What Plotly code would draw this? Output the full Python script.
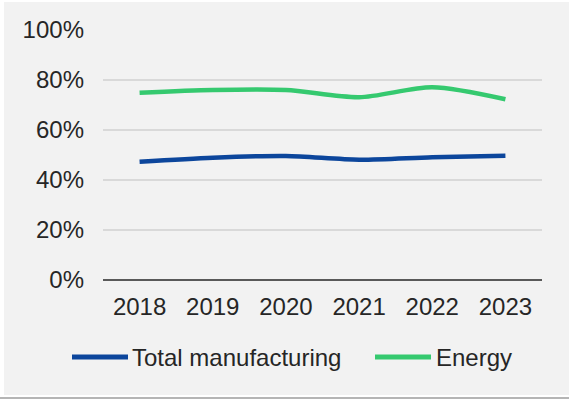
import plotly.graph_objects as go

# Share of firms by year
years = ["2018", "2019", "2020", "2021", "2022", "2023"]
total_manufacturing = [47.3, 48.9, 49.6, 48.1, 49.1, 49.7]
energy = [74.9, 76.0, 76.0, 73.1, 77.1, 72.3]
series_names = ["Total manufacturing", "Energy"]
y_ticks = [0, 20, 40, 60, 80, 100]
y_tick_labels = ["0%", "20%", "40%", "60%", "80%", "100%"]

colors = ["#0c469c", "#35c96f"]
font_family = "Liberation Sans, Arial, sans-serif"
text_color = "#262626"
font_size = 24

W, H = 569, 399
L, R, T, B = 103, 27, 30, 119
pw, ph = W - L - R, H - T - B


def px_x(x):
    return (x - L) / pw


def px_y(y):
    return (H - B - y) / ph


fig = go.Figure()
for name, vals, col in zip(series_names, [total_manufacturing, energy], colors):
    fig.add_trace(go.Scatter(
        x=years, y=vals, name=name, mode="lines",
        line=dict(color=col, width=4.5, shape="spline", smoothing=0.8),
        showlegend=False,
    ))

shapes = [
    # card panel
    dict(type="rect", xref="paper", yref="paper",
         x0=px_x(4), x1=px_x(570), y0=px_y(395), y1=px_y(2),
         fillcolor="#f2f2f2", line=dict(width=0), layer="below"),
    # card bottom edge
    dict(type="line", xref="paper", yref="paper",
         x0=px_x(0), x1=px_x(570), y0=px_y(398), y1=px_y(398),
         line=dict(color="#b5b5b5", width=2), layer="below"),
]

annotations = []
legend_items = [(72, 128, 130), (375, 431, 434)]
for (lx0, lx1, tx), name, col in zip(legend_items, series_names, colors):
    shapes.append(dict(type="line", xref="paper", yref="paper",
                       x0=px_x(lx0), x1=px_x(lx1), y0=px_y(357), y1=px_y(357),
                       line=dict(color=col, width=5)))
    annotations.append(dict(xref="paper", yref="paper", x=px_x(tx), y=px_y(357),
                            text=name, showarrow=False, xanchor="left", yanchor="middle",
                            font=dict(size=font_size, color=text_color, family=font_family)))

fig.update_layout(
    width=W, height=H,
    margin=dict(l=L, r=R, t=T, b=B),
    paper_bgcolor="white",
    plot_bgcolor="rgba(0,0,0,0)",
    font=dict(family=font_family, size=font_size, color=text_color),
    shapes=shapes,
    annotations=annotations,
)
fig.update_xaxes(
    type="category", range=[-0.5, len(years) - 0.5],
    showgrid=False, showline=False, zeroline=False,
    ticks="", ticklabelstandoff=10,
    tickfont=dict(size=font_size, color=text_color),
)
fig.update_yaxes(
    range=[0, 100], tickvals=y_ticks, ticktext=y_tick_labels,
    showgrid=True, gridcolor="#d9d9d9", gridwidth=1.5,
    zeroline=True, zerolinecolor="#595959", zerolinewidth=2,
    showline=False, ticks="", ticklabelstandoff=18,
    tickfont=dict(size=font_size, color=text_color),
)

fig.write_html("out.html")
